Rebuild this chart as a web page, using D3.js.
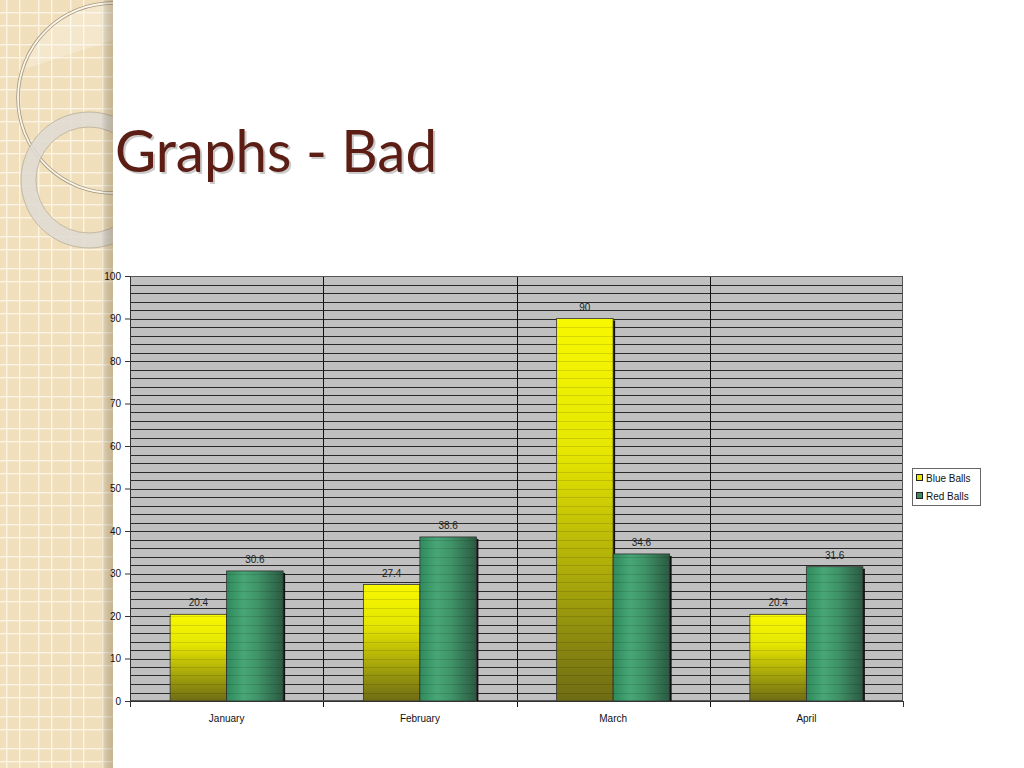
<!DOCTYPE html>
<html><head><meta charset="utf-8">
<script src="https://cdn.jsdelivr.net/npm/d3@7"></script>
<style>html,body{margin:0;padding:0;background:#fff;}svg{display:block;}</style>
</head><body>
<script>
const categories = ["January","February","March","April"];
const seriesNames = ["Blue Balls","Red Balls"];
const blueBalls = [20.4, 27.4, 90, 20.4];
const redBalls = [30.6, 38.6, 34.6, 31.6];
const yTicks = [0,10,20,30,40,50,60,70,80,90,100];
const titleText = "Graphs - Bad";

const W=1024,H=768;
const svg=d3.select("body").append("svg").attr("width",W).attr("height",H);
const defs=svg.append("defs");

// left decorative strip
const pat=defs.append("pattern").attr("id","grid").attr("patternUnits","userSpaceOnUse")
  .attr("width",32).attr("height",32).attr("x",6).attr("y",12);
pat.append("rect").attr("width",32).attr("height",32).attr("fill","#f0dfba");
[0,13].forEach(v=>{
  pat.append("rect").attr("x",v).attr("y",0).attr("width",1.4).attr("height",32).attr("fill","#fbf4e4");
  pat.append("rect").attr("x",0).attr("y",v).attr("width",32).attr("height",1.4).attr("fill","#fbf4e4");
});
const sh=defs.append("linearGradient").attr("id","stripShadow").attr("x1",0).attr("x2",1).attr("y1",0).attr("y2",0);
sh.append("stop").attr("offset",0).attr("stop-color","#000").attr("stop-opacity",0);
sh.append("stop").attr("offset",1).attr("stop-color","#7a6a4a").attr("stop-opacity",0.35);
defs.append("clipPath").attr("id","stripClip").append("rect").attr("width",113).attr("height",H);

const strip=svg.append("g").attr("clip-path","url(#stripClip)");
strip.append("rect").attr("width",113).attr("height",H).attr("fill","url(#grid)");
strip.append("path").attr("d","M113,3 A95,95 0 0 0 22,70 L113,40 Z").attr("fill","#fff").attr("opacity",0.25);
strip.append("circle").attr("cx",113).attr("cy",98).attr("r",95).attr("fill","none").attr("stroke","#a89a80").attr("stroke-width",3.5);
strip.append("circle").attr("cx",113).attr("cy",98).attr("r",95).attr("fill","none").attr("stroke","#fbf6ea").attr("stroke-width",1.8);
strip.append("circle").attr("cx",89).attr("cy",180).attr("r",60.5).attr("fill","none").attr("stroke","#dedbd3").attr("stroke-opacity",0.85).attr("stroke-width",15);
strip.append("circle").attr("cx",89).attr("cy",180).attr("r",68).attr("fill","none").attr("stroke","#b8ad98").attr("stroke-width",0.8);
strip.append("circle").attr("cx",89).attr("cy",180).attr("r",53).attr("fill","none").attr("stroke","#b8ad98").attr("stroke-width",0.8);
strip.append("rect").attr("x",101).attr("width",12).attr("height",H).attr("fill","url(#stripShadow)");

// title
const tf="'Lato','Open Sans',sans-serif";
svg.append("text").attr("x",117).attr("y",174).attr("font-family",tf).attr("font-size",58)
  .attr("textLength",322).attr("lengthAdjust","spacingAndGlyphs").attr("fill","#999").attr("opacity",0.5).text(titleText);
svg.append("text").attr("x",115).attr("y",172).attr("font-family",tf).attr("font-size",58)
  .attr("textLength",322).attr("lengthAdjust","spacingAndGlyphs").attr("fill","#5c1e14").text(titleText);

// chart
const pLeft=130,pRight=903,pTop=276,pBottom=701;
const x0=d3.scaleBand().domain(categories).range([pLeft,pRight]).paddingInner(0).paddingOuter(0);
const x1=d3.scaleBand().domain(seriesNames).range([0,x0.bandwidth()]).paddingInner(0).paddingOuter(0.71);
const y=d3.scaleLinear().domain([0,100]).range([pBottom,pTop]);
const font="Arial, 'Liberation Sans', sans-serif";

svg.append("rect").attr("x",pLeft).attr("y",pTop).attr("width",pRight-pLeft).attr("height",pBottom-pTop).attr("fill","#c0c0c0");
const minor=d3.range(0,101,2);
svg.append("g").selectAll("line").data(minor).join("line")
  .attr("x1",pLeft).attr("x2",pRight).attr("y1",d=>Math.round(y(d))+0.5).attr("y2",d=>Math.round(y(d))+0.5)
  .attr("stroke","#2a2a2a").attr("stroke-width",1);
svg.append("g").selectAll("line").data(categories.slice(1)).join("line")
  .attr("x1",d=>Math.round(x0(d))+0.5).attr("x2",d=>Math.round(x0(d))+0.5).attr("y1",pTop).attr("y2",pBottom+6)
  .attr("stroke","#111").attr("stroke-width",1);
svg.append("rect").attr("x",pLeft+0.5).attr("y",pTop+0.5).attr("width",pRight-pLeft-1).attr("height",pBottom-pTop-1)
  .attr("fill","none").attr("stroke","#555").attr("stroke-width",1);

// gradients
const gy=defs.append("linearGradient").attr("id","gYellow").attr("x1",0).attr("x2",0).attr("y1",0).attr("y2",1);
gy.append("stop").attr("offset",0).attr("stop-color","#f8f800");
gy.append("stop").attr("offset",0.35).attr("stop-color","#e6e600");
gy.append("stop").attr("offset",1).attr("stop-color","#6e6c14");
const gg=defs.append("linearGradient").attr("id","gGreen").attr("x1",0).attr("x2",1).attr("y1",0).attr("y2",0);
gg.append("stop").attr("offset",0).attr("stop-color","#2f8a5c");
gg.append("stop").attr("offset",0.3).attr("stop-color","#48a676");
gg.append("stop").attr("offset",0.55).attr("stop-color","#3f9468");
gg.append("stop").attr("offset",1).attr("stop-color","#2b5a42");
const fills=["url(#gYellow)","url(#gGreen)"];

const rows=categories.map((c,i)=>({cat:c,vals:[blueBalls[i],redBalls[i]]}));
const barsG=svg.append("g");
rows.forEach(r=>{
  r.vals.forEach((v,j)=>{
    const bx=x0(r.cat)+x1(seriesNames[j]);
    const bw=x1.bandwidth();
    barsG.append("rect").attr("x",bx+2).attr("y",y(v)+2).attr("width",bw).attr("height",pBottom-y(v)-2).attr("fill","#111");
    barsG.append("rect").attr("x",bx).attr("y",y(v)).attr("width",bw).attr("height",pBottom-y(v))
      .attr("fill",fills[j]).attr("stroke","#333").attr("stroke-width",0.8);
    barsG.append("g").selectAll("line").data(minor.filter(d=>d>0&&d<v)).join("line")
      .attr("x1",bx).attr("x2",bx+bw).attr("y1",d=>Math.round(y(d))+0.5).attr("y2",d=>Math.round(y(d))+0.5)
      .attr("stroke","#000").attr("stroke-opacity",0.12);
    barsG.append("text").attr("x",bx+bw/2).attr("y",y(v)-8).attr("text-anchor","middle")
      .attr("font-family",font).attr("font-size",10).attr("fill","#222").text(v);
  });
});

// y axis
const yAxis=d3.axisLeft(y).tickValues(yTicks).tickSize(5).tickPadding(4);
const ya=svg.append("g").attr("transform",`translate(${pLeft},0)`).call(yAxis);
ya.select(".domain").attr("stroke","#333");
ya.selectAll(".tick line").attr("stroke","#333");
ya.selectAll("text").attr("font-family",font).attr("font-size",10).attr("fill","#111");

// x axis
const xAxis=d3.axisBottom(x0).tickSize(0).tickPadding(14);
const xa=svg.append("g").attr("transform",`translate(0,${pBottom})`).call(xAxis);
xa.select(".domain").attr("stroke","#333");
xa.selectAll("text").attr("font-family",font).attr("font-size",10).attr("fill","#111");
svg.append("g").selectAll("line").data([pLeft,pRight]).join("line")
  .attr("x1",d=>d+0.5).attr("x2",d=>d+0.5).attr("y1",pBottom).attr("y2",pBottom+6).attr("stroke","#333");

// legend
const lg=svg.append("g").attr("transform","translate(912,468)");
lg.append("rect").attr("x",0.5).attr("y",0.5).attr("width",68).attr("height",37).attr("fill","#fff").attr("stroke","#666");
const legCol=["#e6e600","#3d8a66"];
seriesNames.forEach((s,i)=>{
  lg.append("rect").attr("x",4.5).attr("y",6.5+i*18).attr("width",6).attr("height",6).attr("fill",legCol[i]).attr("stroke","#222");
  lg.append("text").attr("x",14).attr("y",13.5+i*18).attr("font-family",font).attr("font-size",10).attr("fill","#111").text(s);
});
</script>
</body></html>
